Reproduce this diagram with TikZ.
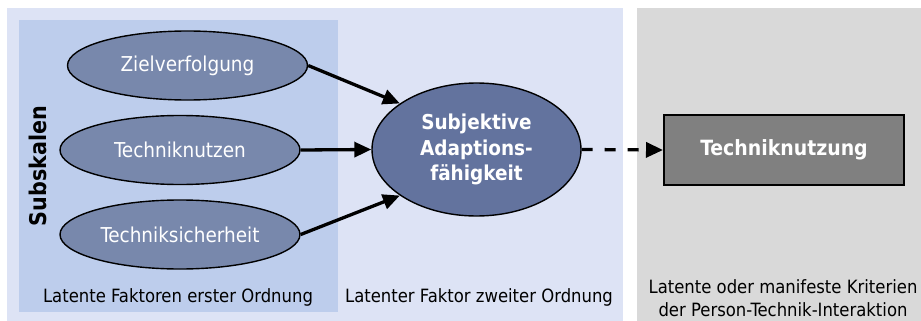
\documentclass[tikz,border=0pt]{standalone}
\usepackage{fontspec}
\setmainfont{DejaVu Sans Condensed}
\usetikzlibrary{shapes.geometric,arrows.meta}
\definecolor{outerblue}{RGB}{221,227,245}
\definecolor{innerblue}{RGB}{189,205,236}
\definecolor{graypanel}{RGB}{217,217,217}
\definecolor{smallell}{RGB}{120,136,172}
\definecolor{bigell}{RGB}{99,115,158}
\definecolor{rectgray}{RGB}{128,128,128}
\tikzset{
  subell/.style={ellipse, draw=black, line width=1.4pt, fill=smallell, inner sep=0pt,
    minimum width=240pt, minimum height=69pt, text=white,
    font=\fontsize{20.5}{24}\selectfont},
  mainell/.style={ellipse, draw=black, line width=1.4pt, fill=bigell, inner sep=0pt,
    minimum width=209pt, minimum height=133pt, text=white, align=center,
    font=\fontsize{20.5}{25.5}\selectfont\bfseries},
  critbox/.style={rectangle, draw=black, line width=2pt, fill=rectgray, inner sep=0pt,
    minimum width=240pt, minimum height=70pt, text=white,
    font=\fontsize{21}{25}\selectfont\bfseries},
  lbl/.style={inner sep=0pt, align=center, font=\fontsize{18.3}{23}\selectfont},
  arr/.style={line width=3.3pt, -{Triangle[length=17pt,width=15pt]}},
}
\begin{document}
\begin{tikzpicture}[x=1pt,y=-1pt]
\useasboundingbox (0,0) rectangle (921,321);
\fill[outerblue] (7,8) rectangle (623,321);
\fill[innerblue] (19,20) rectangle (338,312);
\fill[graypanel] (637,8) rectangle (921,321);

\node[subell] (z) at (187.5,65.5) {Zielverfolgung};
\node[subell] (n) at (180,150) {Techniknutzen};
\node[subell] (s) at (180,234.5) {Techniksicherheit};
\node[mainell] (c) at (476.5,149.5) {Subjektive\\Adaptions-\\fähigkeit};
\node[critbox] (r) at (784,150) {Techniknutzung};

\node[rotate=90, inner sep=0pt, font=\fontsize{23}{26}\selectfont\bfseries] (sub) at (38,166) {Subskalen};
\node[lbl] (l1) at (178,297) {Latente Faktoren erster Ordnung};
\node[lbl] (l2) at (479,297) {Latenter Faktor zweiter Ordnung};
\node[lbl] (l3) at (783,298.5) {Latente oder manifeste Kriterien\\der Person-Technik-Interaktion};

\draw[arr] (z.east) -- (c.149);
\draw[arr] (n.east) -- (c.west);
\draw[arr] (s.east) -- (c.211);
\draw[arr, dash pattern=on 11pt off 12pt] (c.east) -- (r.west);
\end{tikzpicture}
\end{document}
